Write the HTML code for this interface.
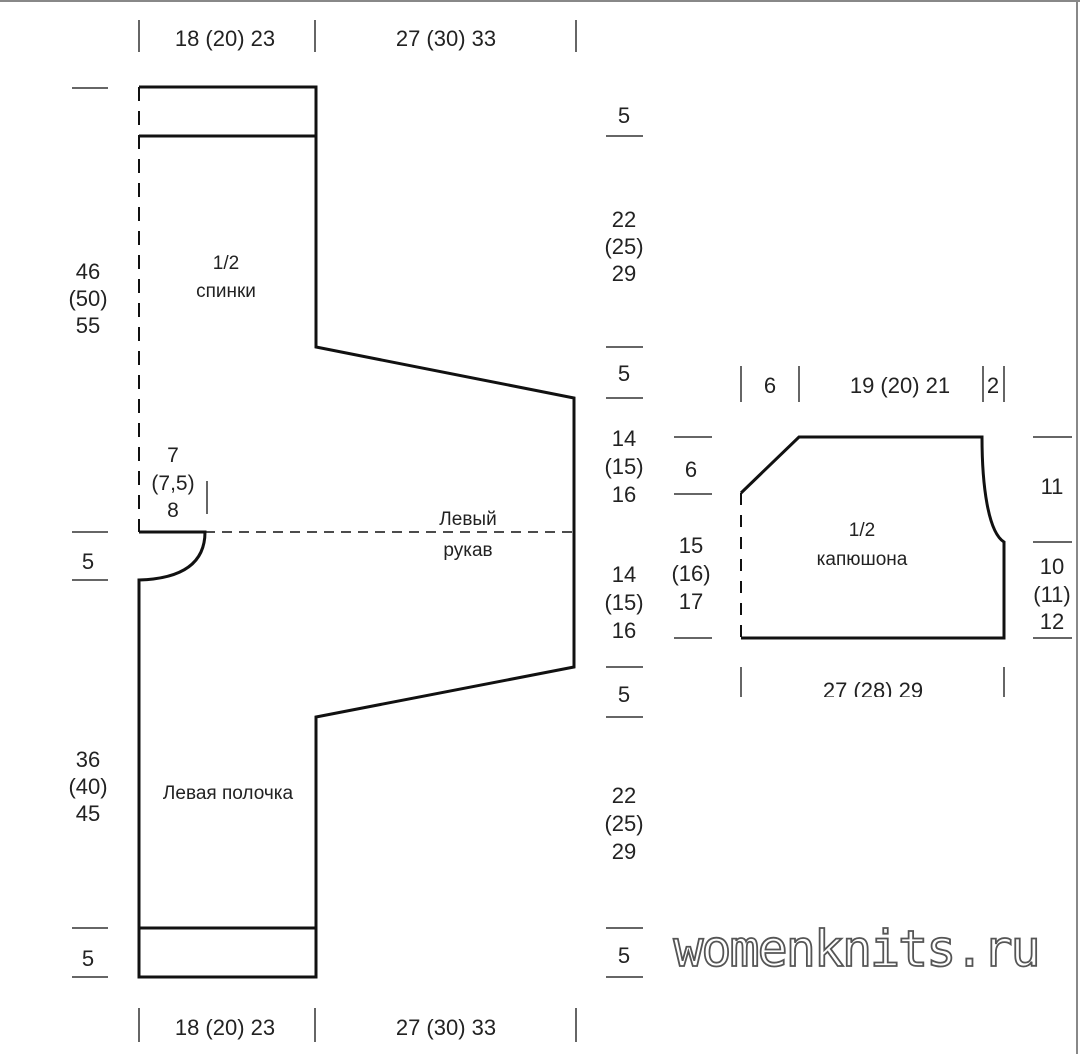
<!DOCTYPE html>
<html><head><meta charset="utf-8"><style>
html,body{margin:0;padding:0;background:#fff;}
svg{display:block;}
text{font-family:"Liberation Sans",sans-serif;fill:#222;text-anchor:middle;}
.n{font-size:22px;}
.l{font-size:19px;}
</style></head><body>
<svg width="1080" height="1054" viewBox="0 0 1080 1054" xmlns="http://www.w3.org/2000/svg">
<rect x="0" y="0" width="1080" height="2" fill="#888"/>
<rect x="1076" y="0" width="2" height="1054" fill="#888"/>
<g stroke="#111" fill="none">
<!-- main shape -->
<path d="M139,87 H316 V347 L574,398 V667 L316,717 V977 H139 V580 Q205,578 205,532 H139" stroke-width="3"/>
<line x1="139" y1="136" x2="316" y2="136" stroke-width="3"/>
<line x1="139" y1="928" x2="316" y2="928" stroke-width="3"/>
<line x1="139" y1="87" x2="139" y2="532" stroke-width="2" stroke-dasharray="14,10"/>
<line x1="205" y1="532" x2="574" y2="532" stroke-width="1.5" stroke-dasharray="10,7"/>
<!-- hood -->
<path d="M741,493 L799,437 H982 C982,485 988,532 1004,542 V638 H741" stroke-width="3"/>
<line x1="741" y1="493" x2="741" y2="638" stroke-width="2" stroke-dasharray="12,10"/>
</g>
<g stroke="#333" stroke-width="1.5">
<!-- top ticks -->
<line x1="139" y1="20" x2="139" y2="52"/><line x1="315" y1="20" x2="315" y2="52"/><line x1="576" y1="20" x2="576" y2="52"/>
<line x1="139" y1="1008" x2="139" y2="1042"/><line x1="315" y1="1008" x2="315" y2="1042"/><line x1="576" y1="1008" x2="576" y2="1042"/>
<!-- left ticks -->
<line x1="72" y1="88" x2="108" y2="88"/><line x1="72" y1="532" x2="108" y2="532"/><line x1="72" y1="580" x2="108" y2="580"/><line x1="72" y1="928" x2="108" y2="928"/><line x1="72" y1="977" x2="108" y2="977"/>
<line x1="207" y1="481" x2="207" y2="514"/>
<!-- right ticks -->
<line x1="606" y1="136" x2="643" y2="136"/><line x1="606" y1="347" x2="643" y2="347"/><line x1="606" y1="398" x2="643" y2="398"/><line x1="606" y1="667" x2="643" y2="667"/><line x1="606" y1="717" x2="643" y2="717"/><line x1="606" y1="928" x2="643" y2="928"/><line x1="606" y1="977" x2="643" y2="977"/>
<!-- hood ticks -->
<line x1="741" y1="366" x2="741" y2="402"/><line x1="799" y1="366" x2="799" y2="402"/><line x1="983" y1="366" x2="983" y2="402"/><line x1="1004" y1="366" x2="1004" y2="402"/>
<line x1="674" y1="437" x2="712" y2="437"/><line x1="674" y1="494" x2="712" y2="494"/><line x1="674" y1="638" x2="712" y2="638"/>
<line x1="1033" y1="437" x2="1072" y2="437"/><line x1="1033" y1="542" x2="1072" y2="542"/><line x1="1033" y1="638" x2="1072" y2="638"/>
<line x1="741" y1="667" x2="741" y2="697"/><line x1="1004" y1="667" x2="1004" y2="697"/>
</g>
<g class="n">
<text x="225" y="46">18 (20) 23</text><text x="446" y="46">27 (30) 33</text>
<text x="225" y="1035">18 (20) 23</text><text x="446" y="1035">27 (30) 33</text>
<text x="88" y="279">46</text><text x="88" y="306">(50)</text><text x="88" y="333">55</text>
<text x="88" y="569">5</text>
<text x="88" y="767">36</text><text x="88" y="794">(40)</text><text x="88" y="821">45</text>
<text x="88" y="966">5</text>
<text x="624" y="123">5</text>
<text x="624" y="227">22</text><text x="624" y="254">(25)</text><text x="624" y="281">29</text>
<text x="624" y="381">5</text>
<text x="624" y="446">14</text><text x="624" y="474">(15)</text><text x="624" y="502">16</text>
<text x="624" y="582">14</text><text x="624" y="610">(15)</text><text x="624" y="638">16</text>
<text x="624" y="702">5</text>
<text x="624" y="803">22</text><text x="624" y="831">(25)</text><text x="624" y="859">29</text>
<text x="624" y="963">5</text>
<text x="770" y="393">6</text><text x="900" y="393">19 (20) 21</text><text x="993" y="393">2</text>
<text x="691" y="477">6</text>
<text x="691" y="553">15</text><text x="691" y="581">(16)</text><text x="691" y="609">17</text>
<text x="1052" y="494">11</text>
<text x="1052" y="574">10</text><text x="1052" y="602">(11)</text><text x="1052" y="629">12</text>
<text x="873" y="698">27 (28) 29</text>
</g>
<rect x="700" y="697" width="340" height="20" fill="#fff"/>
<g class="l">
<text x="226" y="269">1/2</text><text x="226" y="297">спинки</text>
<text x="173" y="462" class="n" style="font-size:21px">7</text><text x="173" y="490" style="font-size:21px">(7,5)</text><text x="173" y="517" style="font-size:21px">8</text>
<text x="468" y="525">Левый</text><text x="468" y="556">рукав</text>
<text x="228" y="799">Левая полочка</text>
<text x="862" y="536">1/2</text><text x="862" y="565">капюшона</text>
</g>
<text x="856" y="966" style="font-family:'DejaVu Sans Mono',monospace;font-size:50px;fill:#fff;stroke:#555;stroke-width:1.8;letter-spacing:-2px">womenknits.ru</text>
</svg>
</body></html>
